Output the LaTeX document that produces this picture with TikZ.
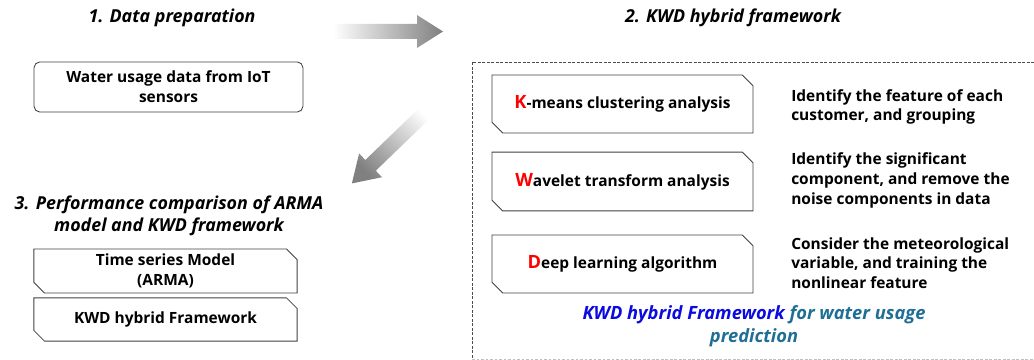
\documentclass[tikz,border=0pt]{standalone}
\usepackage{fontspec}
\setmainfont{Open Sans}
\usetikzlibrary{shapes.misc}
\definecolor{kwdblue}{RGB}{10,10,225}
\definecolor{kwdteal}{RGB}{30,110,150}
\tikzset{
  roundbox/.style={draw=black!75, line width=0.6pt, rounded corners=4pt,
    align=center, inner sep=0pt, font=\bfseries\fontsize{11}{14}\selectfont},
  cutbox/.style={chamfered rectangle, chamfered rectangle corners={north east,south west},
    chamfered rectangle xsep=4pt, draw=black!75, line width=0.6pt,
    align=center, inner sep=0pt, font=\bfseries\fontsize{11}{14}\selectfont},
  steptitle/.style={align=center, inner sep=0pt, font=\bfseries\itshape\fontsize{12.7}{15.5}\selectfont},
  desc/.style={anchor=west, align=left, inner sep=0pt, font=\bfseries\fontsize{11}{14}\selectfont},
}
\newcommand{\initial}[1]{\textcolor{red}{\fontsize{13}{14}\selectfont #1}}

\begin{document}
\begin{tikzpicture}[x=0.025cm, y=-0.025cm]
  \useasboundingbox (0,0) rectangle (1034,360);

  % step 1
  \node[steptitle] (prep) at (172,18) {1. Data preparation};
  \node[roundbox, minimum width=6.72cm, minimum height=1.25cm] (iot) at (168.5,87)
    {Water usage data from IoT\\sensors};

  % step 2
  \node[steptitle] (kwd) at (733,18) {2. KWD hybrid framework};
  \draw[dashed, dash pattern=on 2pt off 1.2pt, black!70] (1034,62) -- (472,62) -- (472,359);
  \draw[dashed, dash pattern=on 2pt off 1.2pt, black!25] (472,359) -- (1034,359);
  \node[cutbox, minimum width=6.52cm, minimum height=1.45cm] (kmeans) at (622.5,104)
    {\initial{K}-means clustering analysis};
  \node[cutbox, minimum width=6.52cm, minimum height=1.47cm] (wavelet) at (622.5,181.5)
    {\initial{W}avelet transform analysis};
  \node[cutbox, minimum width=6.52cm, minimum height=1.45cm] (deep) at (622.5,264)
    {\initial{D}eep learning algorithm};
  \node[desc] (kdesc) at (791,107) {Identify the feature of each\\customer, and grouping};
  \node[desc] (wdesc) at (791,180.5) {Identify the significant\\component, and remove the\\noise components in data};
  \node[desc] (ddesc) at (791,263) {Consider the meteorological\\variable, and training the\\nonlinear feature};
  \node[align=center, inner sep=0pt, font=\bfseries\itshape\fontsize{13}{16.5}\selectfont] (kwdcap) at (754,326)
    {\textcolor{kwdblue}{KWD hybrid Framework} \textcolor{kwdteal}{for water usage}\\\textcolor{kwdteal}{prediction}};

  % step 3
  \node[steptitle] (perf) at (169,216) {3. Performance comparison of ARMA\\model and KWD framework};
  \node[cutbox, minimum width=6.58cm, minimum height=1.05cm] (arma) at (165.5,271)
    {Time series Model\\(ARMA)};
  \node[cutbox, minimum width=6.58cm, minimum height=1.08cm] (kwdfw) at (165.5,319.5)
    {KWD hybrid Framework};

  % block arrows
  \shade[left color=white, right color=black!50]
    (333,24) -- (417,24) -- (417,15) -- (443,31.5) -- (417,48) -- (417,39) -- (333,39) -- cycle;
  \begin{scope}[shift={(431,107)}, rotate=224]
    \shade[top color=white, bottom color=black!50, shading angle=-45]
      (0,-7.5) -- (84,-7.5) -- (84,-16.5) -- (110,0) -- (84,16.5) -- (84,7.5) -- (0,7.5) -- cycle;
  \end{scope}
\end{tikzpicture}
\end{document}
